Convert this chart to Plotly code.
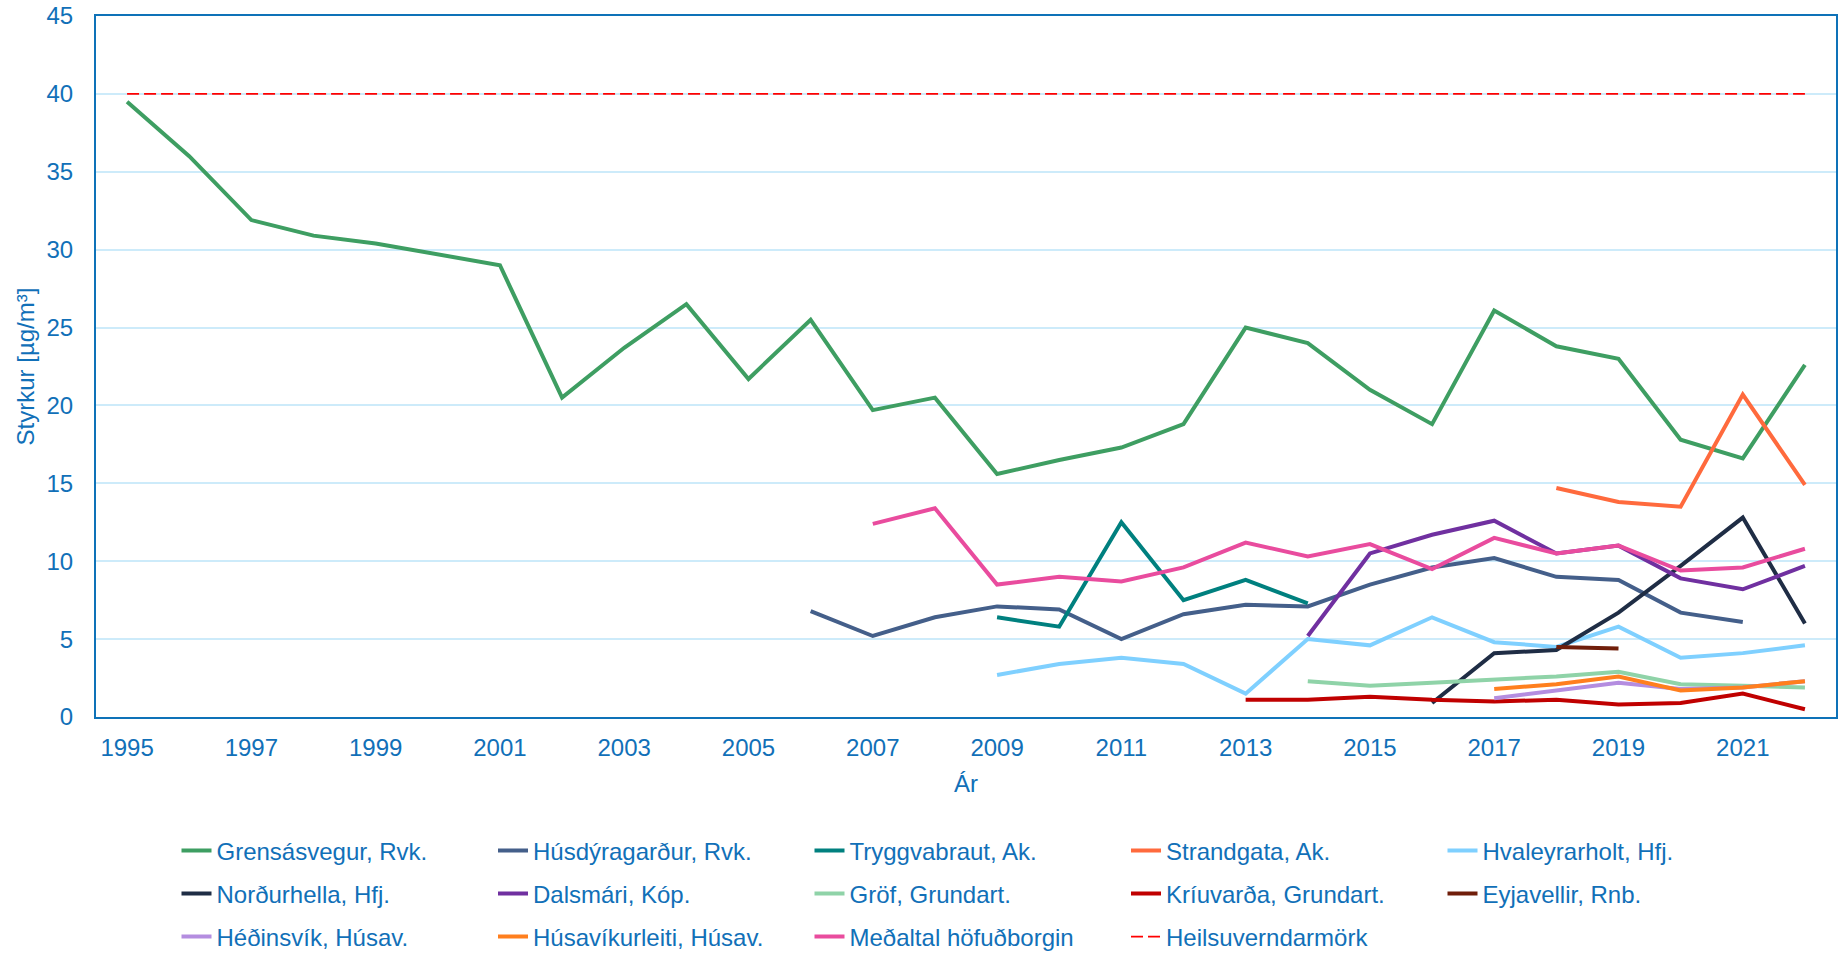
import plotly.graph_objects as go

years = list(range(1995, 2023))

# Series values (None = no measurement)
grensasvegur = [39.5, 36.0, 31.9, 30.9, 30.4, 29.7, 29.0, 20.5, 23.7, 26.5, 21.7, 25.5, 19.7, 20.5,
                15.6, 16.5, 17.3, 18.8, 25.0, 24.0, 21.0, 18.8, 26.1, 23.8, 23.0, 17.8, 16.6, 22.6]
husdyragardur = [None]*11 + [6.8, 5.2, 6.4, 7.1, 6.9, 5.0, 6.6, 7.2, 7.1, 8.5, 9.6, 10.2, 9.0, 8.8, 6.7, 6.1, None]
tryggvabraut = [None]*14 + [6.4, 5.8, 12.5, 7.5, 8.8, 7.3] + [None]*8
strandgata = [None]*23 + [14.7, 13.8, 13.5, 20.7, 14.9]
hvaleyrarholt = [None]*14 + [2.7, 3.4, 3.8, 3.4, 1.5, 5.0, 4.6, 6.4, 4.8, 4.5, 5.8, 3.8, 4.1, 4.6]
nordurhella = [None]*21 + [0.9, 4.1, 4.3, 6.7, 9.7, 12.8, 6.0]
dalsmari = [None]*19 + [5.2, 10.5, 11.7, 12.6, 10.5, 11.0, 8.9, 8.2, 9.7]
grof = [None]*19 + [2.3, 2.0, 2.2, 2.4, 2.6, 2.9, 2.1, 2.0, 1.9]
kriuvarda = [None]*18 + [1.1, 1.1, 1.3, 1.1, 1.0, 1.1, 0.8, 0.9, 1.5, 0.5]
eyjavellir = [None]*23 + [4.5, 4.4, None, None, None]
hedinsvik = [None]*22 + [1.2, 1.7, 2.2, 1.8, 1.9, 2.3]
husavikurleiti = [None]*22 + [1.8, 2.1, 2.6, 1.7, 1.9, 2.3]
medaltal = [None]*12 + [12.4, 13.4, 8.5, 9.0, 8.7, 9.6, 11.2, 10.3, 11.1, 9.5, 11.5, 10.5, 11.0, 9.4, 9.6, 10.8]
heilsuverndarmork = [40.0]*28

tick_years = list(range(1995, 2022, 2))
tick_labels = [str(v) for v in tick_years]

series = [
    ("Grensásvegur, Rvk.", grensasvegur, "#3E9E62", "legend"),
    ("Húsdýragarður, Rvk.", husdyragardur, "#445F8A", "legend"),
    ("Tryggvabraut, Ak.", tryggvabraut, "#00807F", "legend"),
    ("Strandgata, Ak.", strandgata, "#FF6A3D", "legend"),
    ("Hvaleyrarholt, Hfj.", hvaleyrarholt, "#7FD0FF", "legend"),
    ("Norðurhella, Hfj.", nordurhella, "#1F2D45", "legend2"),
    ("Dalsmári, Kóp.", dalsmari, "#7030A0", "legend2"),
    ("Gröf, Grundart.", grof, "#8FD3A8", "legend2"),
    ("Kríuvarða, Grundart.", kriuvarda, "#C00000", "legend2"),
    ("Eyjavellir, Rnb.", eyjavellir, "#701E0A", "legend2"),
    ("Héðinsvík, Húsav.", hedinsvik, "#B48DE0", "legend3"),
    ("Húsavíkurleiti, Húsav.", husavikurleiti, "#FF7F1E", "legend3"),
    ("Meðaltal höfuðborgin", medaltal, "#E94C9E", "legend3"),
]

TXT = "#1170B8"
FONT = "Liberation Sans, Arial, sans-serif"
FS = 24

fig = go.Figure()
for name, vals, col, lg in series:
    fig.add_trace(go.Scatter(x=years, y=vals, name=name, mode="lines",
                             line=dict(color=col, width=4), legend=lg))
fig.add_trace(go.Scatter(x=years, y=heilsuverndarmork, name="Heilsuverndarmörk", mode="lines",
                         line=dict(color="#FF0000", width=1.8, dash="12px,5px"), legend="legend3"))

W, H = 1839, 953
leg_common = dict(orientation="h", xref="container", yref="container", xanchor="left",
                  yanchor="middle", font=dict(family=FONT, size=FS, color=TXT),
                  entrywidth=271.5, entrywidthmode="pixels", bgcolor="rgba(0,0,0,0)",
                  borderwidth=0, itemwidth=30, traceorder="normal")
lx = 176.5 / W
fig.update_layout(
    width=W, height=H,
    margin=dict(l=96, r=3, t=16, b=236, autoexpand=False),
    paper_bgcolor="white", plot_bgcolor="white",
    font=dict(family=FONT, size=FS, color=TXT),
    legend=dict(leg_common, x=lx, y=1 - 851 / H),
    legend2=dict(leg_common, x=lx, y=1 - 894 / H),
    legend3=dict(leg_common, x=lx, y=1 - 937 / H),
    xaxis=dict(range=[1994.5, 2022.5], tickmode="array", tickvals=tick_years, ticktext=tick_labels,
               showgrid=False, showline=True, linecolor="#0E72B8", linewidth=2, mirror=True,
               zeroline=False, ticks="", ticklabelstandoff=8,
               tickfont=dict(family=FONT, size=FS, color=TXT),
               title=dict(text="Ár", standoff=15, font=dict(family=FONT, size=FS, color=TXT))),
    yaxis=dict(range=[0, 45], dtick=5, tick0=0, showgrid=True, gridcolor="#CDEBFA", gridwidth=1.5,
               showline=True, linecolor="#0E72B8", linewidth=2, mirror=True, zeroline=False,
               ticks="", ticklabelstandoff=16,
               tickfont=dict(family=FONT, size=FS, color=TXT),
               title=dict(text="Styrkur [µg/m³]", standoff=5, font=dict(family=FONT, size=FS, color=TXT))),
)

fig.write_html("out.html", config={"displayModeBar": False},
               post_script="document.body.style.margin='0px';")
